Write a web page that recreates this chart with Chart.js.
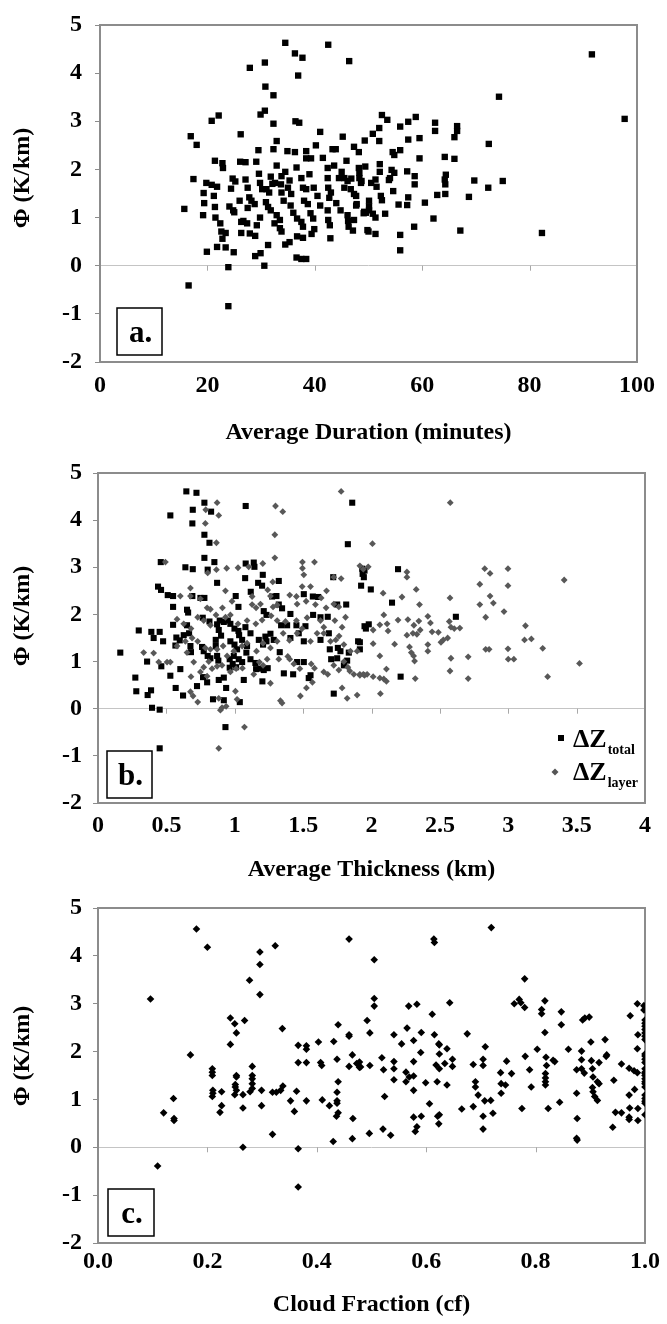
<!DOCTYPE html>
<html>
<head>
<meta charset="utf-8">
<script src="https://cdn.jsdelivr.net/npm/chart.js@4.4.1/dist/chart.umd.min.js"></script>
<style>
  html, body { margin: 0; padding: 0; background: #ffffff; }
  body { width: 667px; height: 1324px; position: relative; overflow: hidden; }
  canvas { position: absolute; left: 0; }
</style>
</head>
<body>
<canvas id="cA" width="667" height="450" style="top:0px;width:667px;height:450px"></canvas>
<canvas id="cB" width="667" height="435" style="top:450px;width:667px;height:435px"></canvas>
<canvas id="cC" width="667" height="439" style="top:885px;width:667px;height:439px"></canvas>
<script>
// ---------- tick labels ----------
const yTickLabels = ['-2', '-1', '0', '1', '2', '3', '4', '5'];
const xTickLabelsA = ['0', '20', '40', '60', '80', '100'];
const xTickLabelsB = ['0', '0.5', '1', '1.5', '2', '2.5', '3', '3.5', '4'];
const xTickLabelsC = ['0.0', '0.2', '0.4', '0.6', '0.8', '1.0'];

// ---------- panel a: [average duration (min), phi (K/km)] ----------
const durationPhi = [
[34.5,4.63],[42.5,4.59],[36.3,4.41],[37.7,4.32],[46.4,4.25],[27.9,4.11],[30.7,4.22],[36.9,3.95],[30.8,3.72],[32.3,3.54],
[30.7,3.22],[29.9,3.14],[20.8,3.01],[22.1,3.12],[32.3,2.95],[36.4,3.0],[37.1,2.97],[16.9,2.69],[18.0,2.51],[26.2,2.73],
[41.0,2.78],[45.2,2.68],[32.9,2.59],[49.3,2.6],[29.5,2.4],[32.3,2.42],[34.9,2.38],[36.3,2.36],[38.4,2.38],[40.2,2.5],
[43.3,2.42],[43.9,2.42],[47.3,2.47],[48.2,2.36],[38.4,2.23],[39.3,2.23],[41.5,2.24],[21.4,2.18],[22.8,2.13],[22.9,2.03],
[26.1,2.16],[27.1,2.15],[29.1,2.16],[32.9,2.08],[36.6,2.04],[42.4,2.03],[43.6,2.08],[45.9,2.18],[49.4,2.06],
[17.4,1.80],[19.8,1.72],[20.8,1.68],[21.8,1.64],[19.3,1.51],[21.2,1.45],[19.4,1.30],[15.7,1.18],[24.4,1.60],[24.7,1.81],
[27.1,1.79],[27.5,1.62],[27.8,1.42],[28.2,1.35],[27.5,1.20],[29.6,1.91],[29.8,1.72],[30.2,1.59],[31.0,1.59],[31.5,1.52],
[33.8,1.86],[33.7,1.69],[32.6,1.72],[32.1,1.70],[33.8,1.52],[35.0,1.62],[35.6,1.49],[35.3,1.77],[37.5,1.82],[37.8,1.62],
[38.4,1.59],[39.8,1.62],[42.4,1.82],[42.5,1.62],[43.0,1.52],[42.7,1.41],[44.5,1.82],[45.5,1.82],[46.1,1.76],[46.8,1.81],
[45.5,1.62],[46.7,1.59],[47.3,1.49],[47.8,1.28],[48.7,1.76],
[19.2,1.05],[21.4,1.22],[21.5,1.0],[22.4,0.88],[22.6,0.71],[22.8,0.56],[23.4,0.68],[19.9,0.29],[21.8,0.39],[23.4,0.38],
[24.9,0.28],[24.1,1.23],[24.8,1.15],[25.0,1.11],[26.3,0.91],[26.7,0.93],[27.4,0.88],[26.3,0.68],[27.9,0.67],[28.9,0.62],
[28.9,0.20],[29.9,0.26],[30.6,0.0],[31.3,0.43],[29.2,0.84],[29.8,1.0],[30.9,1.32],[31.3,1.22],[31.8,1.15],[32.9,1.05],
[33.5,0.95],[33.5,0.78],[33.8,0.71],[32.5,0.88],[34.5,0.44],[35.3,0.49],[36.7,0.98],[37.5,0.91],[37.8,0.81],[36.7,0.61],
[37.8,0.58],[36.6,0.17],[37.5,0.14],[38.4,0.14],[38.7,1.28],[39.2,1.09],[39.7,0.98],[39.9,0.76],[39.4,0.66],[42.4,1.15],
[42.5,0.95],[42.8,0.84],[42.9,0.57],[46.1,1.05],[46.2,0.93],[46.3,0.81],[47.1,0.73],[47.3,0.95],[49.1,1.09],[49.8,0.74],
[16.5,-0.41],[23.9,-0.84],[23.9,-0.03],
[91.6,4.39],[74.3,3.51],[97.7,3.05],[52.5,3.13],[53.5,3.03],[52.0,2.86],[50.8,2.74],[52.0,2.59],[55.9,2.89],[57.4,2.99],
[58.8,3.09],[57.4,2.62],[59.5,2.65],[62.4,2.97],[62.4,2.80],[66.5,2.90],[66.5,2.80],[66.0,2.67],[72.4,2.53],[54.5,2.36],
[54.8,2.30],[55.9,2.40],[59.5,2.23],[64.2,2.26],[66.0,2.22],[52.1,2.11],[48.2,2.03],[48.3,1.93],[52.1,1.95],[54.3,1.99],
[54.8,1.93],[54.0,1.82],[53.8,1.78],[57.2,1.96],[58.6,1.86],[58.6,1.69],[64.4,1.89],[64.2,1.79],[64.3,1.69],[48.3,1.82],
[48.6,1.72],[50.5,1.72],[51.3,1.79],[51.5,1.64],[69.7,1.77],[75.0,1.76],[72.3,1.62],[54.6,1.55],[52.3,1.45],[52.5,1.36],
[62.8,1.47],[64.3,1.49],[68.7,1.43],[57.4,1.42],[60.5,1.31],[55.6,1.27],[57.2,1.26],[47.7,1.45],[47.7,1.25],[50.1,1.35],
[50.1,1.23],[50.1,1.15],[49.2,1.12],[49.5,1.10],[50.8,1.08],[51.3,1.00],[53.1,1.08],[62.1,0.98],[58.5,0.81],[50.0,0.71],
[51.3,0.66],[55.9,0.64],[67.1,0.73],[82.3,0.68],[55.9,0.32],
[34.2,1.35],[35.5,1.25],[36.0,1.10],[38.0,1.35],[40.5,1.45],[41.0,1.25],[44.0,1.30],[44.8,1.15],[45.0,1.95],[39.0,1.90],
[34.5,1.95],[31.8,1.85],[28.8,1.28],[26.0,1.35],[25.2,1.75]
];

// ---------- panel b: [average thickness (km), phi] ----------
const thicknessTotal = [
[0.646,4.61],[0.72,4.58],[0.778,4.37],[0.827,4.18],[0.693,4.22],[1.08,4.30],[0.529,4.10],[0.69,3.93],[0.778,3.69],[0.815,3.52],
[0.778,3.20],[0.851,3.11],[0.459,3.11],[0.639,3.00],[0.693,2.96],[0.802,2.95],[1.08,3.08],[1.139,3.10],[1.144,3.01],[1.205,2.84],
[1.076,2.77],[1.171,2.67],[1.2,2.61],[1.322,2.71],[0.871,2.67],[0.439,2.59],[0.461,2.52],[0.51,2.41],[0.549,2.39],[0.69,2.39],
[0.749,2.35],[0.778,2.35],[1.007,2.39],[1.027,2.16],[1.117,2.48],[1.273,2.38],[1.305,2.39],[1.505,2.43],[1.571,2.38],[1.61,2.37],
[1.749,2.21],[1.815,2.21],[0.549,2.16],[0.651,2.10],[0.659,2.04],[0.766,1.93],[0.815,1.85],[0.92,1.84],[0.89,1.87],[1.212,2.07],
[1.232,1.99],[1.322,2.21],[1.346,2.13],[1.407,2.01],[1.573,1.99],[1.627,1.94],[1.68,1.95],[0.298,1.66],[0.39,1.63],[0.407,1.50],
[0.476,1.43],[0.451,1.63],[0.549,1.78],[0.573,1.51],[0.598,1.45],[0.627,1.56],[0.651,1.77],[0.666,1.60],[0.566,1.34],[0.676,1.33],
[0.68,1.20],[0.761,1.31],[0.773,1.22],[0.802,1.12],[0.822,1.07],[0.871,1.79],[0.883,1.67],[0.9,1.55],[0.861,1.46],[0.861,1.33],
[0.871,1.12],[0.88,1.02],[0.949,1.87],[0.968,1.80],[0.998,1.70],[1.027,1.65],[1.032,1.56],[1.054,1.46],[0.968,1.43],[0.998,1.36],
[1.017,1.26],[0.993,1.12],[1.029,1.05],[1.054,0.99],[0.985,0.95],[1.01,0.88],[0.963,1.05],[1.078,1.73],[1.115,1.60],[1.09,1.33],
[1.085,1.19],[1.115,1.05],[1.151,0.97],[1.188,0.85],[1.212,0.82],[1.241,0.86],[1.156,0.84],[1.176,1.46],[1.224,1.53],[1.261,1.59],
[1.285,1.46],[1.207,1.36],[1.232,1.43],[1.339,1.77],[1.383,1.77],[1.451,1.77],[1.517,1.75],[1.505,1.43],[1.468,1.60],[1.407,1.50],
[1.329,1.20],[1.359,0.75],[1.427,0.73],[1.456,0.99],[1.505,0.99],[1.541,0.65],[1.554,0.71],[1.627,1.46],[1.688,1.60],[1.754,1.29],
[1.695,1.26],[1.705,1.05],[1.749,1.07],[1.773,1.22],[1.834,1.19],[1.822,1.02],[1.798,0.92],[1.902,1.43],[1.915,1.26],[1.949,1.75],
[1.98,1.79],[0.273,0.66],[0.28,0.37],[0.359,1.00],[0.363,0.29],[0.388,0.39],[0.395,0.02],[0.451,-0.02],[0.463,0.90],[0.529,0.70],
[0.568,0.44],[0.602,0.84],[0.622,0.28],[0.724,0.48],[0.768,0.67],[0.798,0.56],[0.841,0.20],[0.883,0.61],[0.92,0.66],[0.937,0.44],
[0.92,0.18],[0.963,0.87],[1.037,0.14],[1.066,0.61],[1.202,0.58],[0.932,-0.39],[0.451,-0.84],[1.724,0.32],[1.859,4.37],[1.827,3.49],
[1.924,2.61],[1.949,2.93],[1.932,2.97],[1.72,2.79],[2.194,2.96],[1.935,2.86],[1.944,2.79],[1.995,2.53],[2.15,2.25],[2.617,1.95],
[1.959,1.70],[1.915,1.41],[2.213,0.68],[0.163,1.19]
];
const thicknessLayer = [
[1.778,4.61],[0.871,4.37],[0.883,4.10],[0.788,4.22],[0.785,3.93],[0.866,3.52],[1.298,4.30],[1.351,4.18],[1.293,3.69],[1.293,3.20],
[0.493,3.11],[0.866,2.95],[0.941,2.98],[1.024,2.99],[1.102,3.01],[1.205,3.08],[0.802,2.88],[1.495,3.11],[1.505,2.84],[1.583,3.11],
[1.495,2.98],[1.724,2.79],[1.778,2.76],[0.676,2.56],[0.602,2.39],[0.676,2.39],[0.749,2.33],[0.798,2.14],[0.822,2.11],[0.91,2.14],
[0.932,2.50],[0.98,2.28],[1.127,2.38],[1.127,2.21],[1.156,2.14],[1.188,2.22],[1.241,2.52],[1.278,2.69],[1.261,2.39],[1.28,2.16],
[1.31,2.20],[1.402,2.41],[1.451,2.38],[1.493,2.59],[1.554,2.59],[1.456,2.22],[1.522,2.28],[1.59,2.21],[1.632,2.35],[1.671,2.50],
[1.668,2.14],[1.761,2.16],[1.724,2.22],
[0.578,1.90],[0.627,1.80],[0.68,1.70],[0.729,1.94],[0.773,1.87],[0.822,1.77],[0.863,1.99],[0.932,1.94],[0.968,1.99],[1.024,1.80],
[1.09,1.87],[1.154,1.80],[1.2,1.88],[1.266,1.97],[1.31,1.87],[1.371,1.85],[1.451,1.87],[1.529,1.93],[1.627,1.87],[1.651,1.73],
[1.732,1.87],[1.81,1.94],
[0.334,1.19],[0.505,0.99],[0.578,1.33],[0.639,1.43],[0.688,1.50],[0.729,1.43],[0.785,1.29],[0.822,1.26],[0.871,1.26],[0.915,1.33],
[0.944,1.12],[0.993,1.22],[1.054,1.33],[1.09,1.39],[1.159,1.22],[1.207,1.39],[1.261,1.29],[1.31,1.43],[1.354,1.60],[1.4,1.45],
[1.456,1.60],[1.493,1.70],[1.554,1.43],[1.602,1.60],[1.651,1.60],[1.7,1.43],[1.739,1.46],[1.763,1.54],[1.785,1.73],[1.798,1.36],
[1.846,1.22],[1.895,1.22],
[0.407,1.18],[0.444,0.99],[0.529,0.99],[0.651,1.19],[0.7,0.99],[0.749,0.78],[0.773,0.88],[0.81,1.00],[0.834,0.85],[0.871,0.90],
[0.907,0.92],[0.968,0.78],[1.01,0.85],[1.056,0.86],[1.139,0.73],[1.18,0.99],[1.207,0.92],[1.237,1.05],[1.322,1.05],[1.388,1.11],
[1.402,1.05],[1.432,0.95],[1.476,0.85],[1.559,0.95],[1.583,0.86],[1.651,0.78],[1.68,0.73],[1.724,0.92],[1.761,0.82],[1.798,1.00],
[1.827,0.88],[1.841,0.80],[1.871,0.73],[1.915,0.71],[1.949,0.71],
[0.68,0.68],[0.676,0.36],[0.695,0.27],[0.729,0.14],[0.798,0.69],[0.883,0.22],[0.907,0.02],[0.895,-0.03],[0.937,0.05],[1.005,0.37],
[1.017,0.20],[1.261,0.54],[1.334,0.17],[1.346,0.12],[1.48,0.27],[1.524,0.44],[1.568,0.56],[1.785,0.44],[1.822,0.22],[1.895,0.29],
[1.968,0.73],[1.071,-0.39],[0.883,-0.84],
[2.576,4.37],[2.007,3.50],[1.915,3.03],[1.94,2.96],[1.976,3.01],[2.259,2.90],[2.259,2.79],[2.828,2.97],[2.867,2.87],[2.998,2.97],
[2.998,2.61],[3.409,2.73],[2.792,2.64],[2.085,2.45],[2.223,2.37],[2.327,2.53],[2.351,2.21],[2.574,2.35],[2.792,2.21],[2.867,2.39],
[2.891,2.24],[2.969,2.06],[2.835,1.94],[2.09,1.99],[2.114,1.80],[2.121,1.65],[2.194,1.88],[2.266,1.89],[2.31,1.77],[2.303,1.60],
[2.346,1.86],[2.356,1.67],[2.412,1.96],[2.431,1.82],[2.443,1.63],[2.489,1.62],[2.569,1.85],[2.581,1.73],[2.605,1.70],[2.646,1.71],
[2.525,1.46],[2.557,1.50],[2.508,1.41],[2.061,1.78],[2.012,1.67],[2.012,1.38],[2.169,1.37],[2.259,1.56],[2.332,1.58],[2.412,1.36],
[2.412,1.22],[3.126,1.76],[3.119,1.46],[3.169,1.48],[3.252,1.28],[2.998,1.27],[3.0,1.05],[3.041,1.05],[2.835,1.26],[2.86,1.26],
[2.707,1.10],[2.581,1.07],[2.574,0.80],[2.278,1.31],[2.291,1.19],[2.308,1.12],[2.315,1.01],[2.061,1.12],[2.109,0.84],[2.09,0.63],
[2.109,0.58],[2.012,0.68],[2.061,0.65],[1.915,0.73],[1.94,0.73],[2.32,0.64],[2.707,0.64],[3.288,0.68],[3.521,0.96],[2.065,0.32]
];

// ---------- panel c: [cloud fraction, phi] ----------
const cloudFractionPhi = [
[0.180,4.56],[0.200,4.18],[0.296,4.08],[0.324,4.21],[0.459,4.35],[0.296,3.82],[0.277,3.49],[0.296,3.19],[0.096,3.10],[0.242,2.70],
[0.250,2.58],[0.253,2.39],[0.268,2.65],[0.242,2.15],[0.337,2.48],[0.169,1.93],[0.209,1.64],[0.209,1.57],[0.209,1.50],[0.210,1.19],
[0.210,1.13],[0.209,1.06],[0.226,1.16],[0.226,0.87],[0.223,0.73],[0.253,1.50],[0.253,1.47],[0.251,1.31],[0.251,1.26],[0.253,1.19],
[0.250,1.10],[0.265,1.10],[0.265,0.82],[0.282,1.69],[0.282,1.50],[0.282,1.43],[0.282,1.33],[0.282,1.23],[0.278,1.16],[0.299,1.19],
[0.299,0.87],[0.319,1.15],[0.326,1.15],[0.334,1.19],[0.338,1.28],[0.319,0.27],[0.265,0.0],[0.363,1.17],[0.352,0.97],[0.359,0.75],
[0.366,2.13],[0.366,1.77],[0.381,2.12],[0.381,2.05],[0.381,1.77],[0.381,0.97],[0.403,2.20],[0.407,1.77],[0.409,1.71],[0.410,0.99],
[0.423,0.87],[0.431,2.21],[0.437,1.84],[0.439,1.37],[0.437,1.15],[0.437,0.97],[0.437,0.92],[0.439,0.72],[0.436,0.65],[0.430,0.12],
[0.439,2.56],[0.459,2.35],[0.459,2.32],[0.459,1.69],[0.465,1.93],[0.466,0.60],[0.465,0.18],[0.473,1.75],[0.478,1.78],[0.480,1.68],
[0.492,2.65],[0.497,2.39],[0.497,1.71],[0.496,0.29],[0.366,-0.03],[0.366,-0.83],[0.109,-0.39],[0.138,1.02],[0.139,0.60],[0.139,0.56],
[0.120,0.72],
[0.719,4.59],[0.614,4.35],[0.615,4.28],[0.505,3.92],[0.780,3.52],[0.505,3.11],[0.505,2.95],[0.568,2.95],[0.583,2.99],[0.643,3.02],
[0.611,2.78],[0.761,3.00],[0.770,3.09],[0.773,3.02],[0.780,2.92],[0.817,3.06],[0.811,2.88],[0.811,2.79],[0.847,2.83],[0.847,2.56],
[0.886,2.66],[0.890,2.70],[0.898,2.72],[0.973,2.75],[0.986,3.00],[0.998,2.96],[0.998,2.87],[0.541,2.35],[0.565,2.49],[0.555,2.16],
[0.577,2.23],[0.591,2.40],[0.590,1.98],[0.615,2.35],[0.623,2.16],[0.624,2.14],[0.638,2.06],[0.624,1.95],[0.618,1.72],[0.624,1.64],
[0.634,1.75],[0.648,1.84],[0.648,1.69],[0.675,2.37],[0.708,2.10],[0.704,1.84],[0.704,1.71],[0.478,1.67],[0.519,1.87],[0.522,1.62],
[0.541,1.79],[0.541,1.64],[0.541,1.41],[0.563,1.37],[0.563,1.57],[0.569,1.47],[0.577,1.49],[0.577,1.79],[0.577,1.19],[0.599,1.35],
[0.620,1.37],[0.638,1.30],[0.686,1.73],[0.690,1.37],[0.690,1.26],[0.695,1.09],[0.707,0.97],[0.718,0.98],[0.686,0.85],[0.665,0.80],
[0.704,0.65],[0.722,0.71],[0.704,0.38],[0.736,1.56],[0.737,1.33],[0.745,1.30],[0.737,1.13],[0.747,1.80],[0.756,1.54],[0.781,1.90],
[0.789,1.62],[0.792,1.26],[0.803,2.05],[0.817,2.40],[0.819,1.88],[0.820,1.71],[0.818,1.54],[0.818,1.45],[0.818,1.37],[0.818,1.30],
[0.832,1.82],[0.835,1.79],[0.844,0.94],[0.823,0.81],[0.775,0.81],[0.860,2.05],[0.875,1.62],[0.875,1.13],[0.876,0.60],[0.875,0.19],
[0.876,0.15],[0.884,2.01],[0.884,1.83],[0.884,1.64],[0.889,1.55],[0.901,2.20],[0.902,1.81],[0.904,1.64],[0.905,1.47],[0.904,1.25],
[0.913,1.37],[0.916,1.33],[0.905,1.16],[0.908,1.06],[0.913,0.98],[0.916,1.77],[0.927,2.25],[0.929,1.90],[0.930,1.93],[0.943,1.40],
[0.941,0.42],[0.946,0.73],[0.957,1.74],[0.957,0.72],[0.971,1.65],[0.971,1.09],[0.972,0.82],[0.971,0.63],[0.971,0.58],[0.980,1.60],
[0.981,1.21],[0.986,1.56],[0.987,2.35],[0.986,2.06],[0.987,0.81],[0.987,0.56],
[1.0,2.66],[1.0,2.59],[1.0,2.53],[1.0,2.46],[1.0,2.39],[1.0,2.32],[1.0,2.25],[1.0,1.95],[1.0,1.91],[1.0,1.84],
[1.0,1.77],[1.0,1.64],[1.0,1.57],[1.0,1.54],[1.0,1.50],[1.0,1.43],[1.0,1.37],[1.0,1.33],[1.0,1.26],[1.0,1.09],
[1.0,1.02],[1.0,0.96],[1.0,0.92],[1.0,0.68],
[0.524,1.06],[0.521,0.38],[0.535,0.25],[0.577,0.63],[0.583,0.43],[0.580,0.33],[0.591,0.65],[0.606,0.91],[0.621,0.65],[0.624,0.68],
[0.623,0.49]
];

// ---------- helpers ----------
const FONT = "'Liberation Serif', 'Times New Roman', serif";
const tickFont = { family: FONT, size: 24, weight: 'bold', lineHeight: 1 };
const titleFont = { family: FONT, size: 24, weight: 'bold', lineHeight: 1 };
const toXY = arr => arr.map(p => ({ x: p[0], y: p[1] }));

function decor(cfg) {
  return {
    id: 'decor_' + cfg.label,
    beforeDatasetsDraw(chart) {
      const { ctx, chartArea: a, scales } = chart;
      const x = scales.x, y = scales.y;
      ctx.save();
      const y0 = y.getPixelForValue(0);
      ctx.strokeStyle = '#a8a8a8';
      ctx.lineWidth = 1;
      x.ticks.forEach((t, i) => {
        if (i === 0 || i === x.ticks.length - 1) return;
        const px = Math.round(x.getPixelForValue(t.value)) + 0.5;
        ctx.beginPath();
        ctx.moveTo(px, y0);
        ctx.lineTo(px, y0 + 5);
        ctx.stroke();
      });
      ctx.strokeStyle = '#8c8c8c';
      ctx.lineWidth = 2;
      ctx.strokeRect(a.left, a.top, a.right - a.left, a.bottom - a.top);
      ctx.fillStyle = '#000';
      ctx.font = 'bold 24px ' + FONT;
      ctx.textAlign = 'center';
      ctx.textBaseline = 'middle';
      ctx.translate(cfg.yTitleX, cfg.yTitleY);
      ctx.rotate(-Math.PI / 2);
      ctx.fillText('\u03A6 (K/km)', 0, 0);
      ctx.restore();
    },
    afterDatasetsDraw(chart) {
      const { ctx } = chart;
      ctx.save();
      const b = cfg.box;
      ctx.fillStyle = '#fff';
      ctx.fillRect(b[0], b[1], b[2], b[3]);
      ctx.strokeStyle = '#000';
      ctx.lineWidth = 1.5;
      ctx.strokeRect(b[0], b[1], b[2], b[3]);
      ctx.fillStyle = '#000';
      ctx.font = 'bold 31px ' + FONT;
      ctx.textAlign = 'center';
      ctx.textBaseline = 'alphabetic';
      ctx.fillText(cfg.label, b[0] + b[2] / 2 + 1, b[1] + b[3] - 13);
      if (cfg.legend) {
        const L = cfg.legend;
        ctx.fillStyle = '#000';
        ctx.fillRect(L.sq[0] - 3, L.sq[1] - 3, 6, 6);
        ctx.fillStyle = '#555';
        ctx.beginPath();
        ctx.moveTo(L.di[0], L.di[1] - 3.5);
        ctx.lineTo(L.di[0] + 3.5, L.di[1]);
        ctx.lineTo(L.di[0], L.di[1] + 3.5);
        ctx.lineTo(L.di[0] - 3.5, L.di[1]);
        ctx.closePath();
        ctx.fill();
        ctx.fillStyle = '#000';
        ctx.textAlign = 'left';
        ctx.font = 'bold 26px ' + FONT;
        const w = ctx.measureText('\u0394Z').width;
        ctx.fillText('\u0394Z', L.tx, L.b1);
        ctx.fillText('\u0394Z', L.tx, L.b2);
        ctx.font = 'bold 14px ' + FONT;
        ctx.fillText(L.s1, L.tx + w + 1, L.b1 + 7);
        ctx.fillText(L.s2, L.tx + w + 1, L.b2 + 7);
      }
      ctx.restore();
    }
  };
}

function makeChart(id, datasets, o) {
  return new Chart(document.getElementById(id), {
    type: 'scatter',
    data: { datasets },
    options: {
      responsive: false,
      animation: false,
      events: [],
      layout: { padding: { top: o.pt, right: o.pr, left: 0, bottom: 0 } },
      plugins: { legend: { display: false }, tooltip: { enabled: false } },
      scales: {
        x: {
          type: 'linear', min: o.xmin, max: o.xmax,
          afterFit: s => { s.height = o.xh; },
          grid: { display: false, drawTicks: false },
          border: { display: false },
          ticks: {
            stepSize: o.xstep, padding: o.xp, color: '#000', font: tickFont,
            maxRotation: 0, autoSkip: false,
            callback: (v, i) => o.xLabels[i]
          },
          title: { display: true, text: o.xTitle, color: '#000', font: titleFont, padding: { top: 0, bottom: o.tpb } }
        },
        y: {
          type: 'linear', min: -2, max: 5,
          afterFit: s => { s.width = o.yw; },
          border: { display: false },
          grid: {
            color: c => (c.tick && c.tick.value === 0) ? '#c4c4c4' : 'rgba(0,0,0,0)',
            tickColor: '#8c8c8c', tickLength: 5, lineWidth: 1
          },
          ticks: { stepSize: 1, padding: o.yp, color: '#000', font: tickFont, callback: (v, i) => yTickLabels[i] }
        }
      }
    },
    plugins: [decor(o.decor)]
  });
}

makeChart('cA', [{
  data: toXY(durationPhi), pointStyle: 'rect', pointRadius: 4.5,
  backgroundColor: '#000', borderColor: '#000', borderWidth: 0, showLine: false
}], {
  pt: 16, pr: 23, xh: 88, yw: 100, xp: 12, yp: 13, tpb: 5,
  xmin: 0, xmax: 100, xstep: 20, xLabels: xTickLabelsA, xTitle: 'Average Duration (minutes)',
  decor: { label: 'a.', yTitleX: 23, yTitleY: 178, box: [117, 308, 45, 47] }
});

makeChart('cB', [
  { data: toXY(thicknessLayer), order: 0, pointStyle: 'rectRot', pointRadius: 3.4,
    backgroundColor: '#585858', borderColor: '#585858', borderWidth: 0, showLine: false },
  { data: toXY(thicknessTotal), order: 1, pointStyle: 'rect', pointRadius: 4.3,
    backgroundColor: '#000', borderColor: '#000', borderWidth: 0, showLine: false }
], {
  pt: 13, pr: 22, xh: 82, yw: 98, xp: 11, yp: 11, tpb: 3,
  xmin: 0, xmax: 4, xstep: 0.5, xLabels: xTickLabelsB, xTitle: 'Average Thickness (km)',
  decor: { label: 'b.', yTitleX: 23, yTitleY: 166, box: [107, 301, 45, 47],
    legend: { sq: [561, 288], di: [555, 322], tx: 573, b1: 297, b2: 330, s1: 'total', s2: 'layer' } }
});

makeChart('cC', [{
  data: toXY(cloudFractionPhi), pointStyle: 'rectRot', pointRadius: 3.8,
  backgroundColor: '#000', borderColor: '#000', borderWidth: 0, showLine: false
}], {
  pt: 19, pr: 22, xh: 81, yw: 98, xp: 7, yp: 11, tpb: 7,
  xmin: 0, xmax: 1, xstep: 0.2, xLabels: xTickLabelsC, xTitle: 'Cloud Fraction (cf)',
  decor: { label: 'c.', yTitleX: 23, yTitleY: 171, box: [108, 304, 46, 47] }
});
</script>
</body>
</html>
